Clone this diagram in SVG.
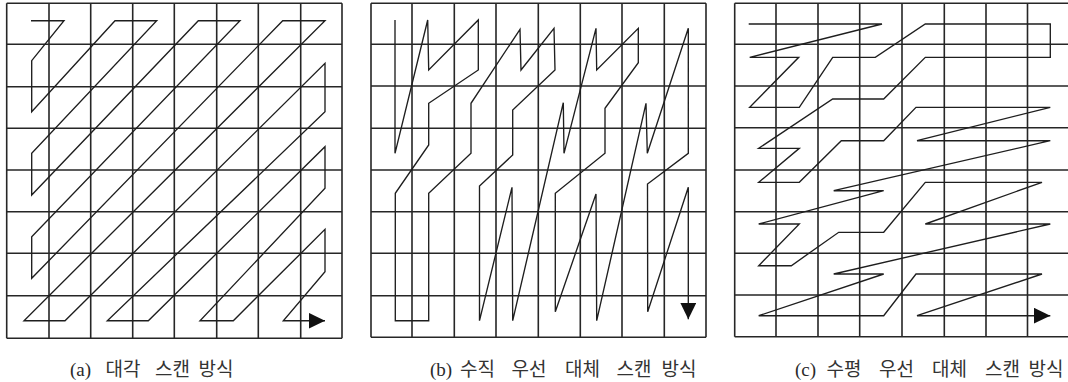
<svg xmlns="http://www.w3.org/2000/svg" width="1068" height="382" viewBox="0 0 1068 382">
<style>
.grid{fill:none;stroke:#262626;stroke-width:1.6}
.scan{fill:none;stroke:#1e1e1e;stroke-width:1.35;stroke-linejoin:miter}
.lat{font-family:"Liberation Serif",serif;font-size:19px;fill:#2a2a2a}
.kor{font-family:"Noto Sans CJK KR",sans-serif;font-size:19px;fill:#333}
</style>
<defs>
<marker id="ah" markerUnits="userSpaceOnUse" markerWidth="18" markerHeight="18" refX="16.5" refY="8" orient="auto" viewBox="0 0 18 18">
<path d="M0,0 L16.5,8 L0,16 z" fill="#111"/>
</marker>
</defs>
<rect width="1068" height="382" fill="#fff"/>
<g id="panel-a">
<path class="grid" d="M6.7,3.3V338.3 M49,3.3V338.3 M90.7,3.3V338.3 M132.7,3.3V338.3 M174.3,3.3V338.3 M216.7,3.3V338.3 M258.3,3.3V338.3 M300.7,3.3V338.3 M342,3.3V338.3 M6.7,3.3H342 M6.7,44.3H342 M6.7,86.7H342 M6.7,128.3H342 M6.7,170H342 M6.7,211.7H342 M6.7,253.3H342 M6.7,295.7H342 M6.7,338.3H342"/>
</g>
<g id="panel-b">
<path class="grid" d="M371,3.3V337.3 M412,3.3V337.3 M454.3,3.3V337.3 M496,3.3V337.3 M538.3,3.3V337.3 M580.3,3.3V337.3 M622,3.3V337.3 M664.3,3.3V337.3 M706,3.3V337.3 M371,3.3H706 M371,44.3H706 M371,86H706 M371,128.3H706 M371,170H706 M371,211.7H706 M371,253.3H706 M371,295.7H706 M371,337.3H706"/>
</g>
<g id="panel-c">
<path class="grid" d="M734.7,3.3V336.7 M776,3.3V336.7 M818,3.3V336.7 M859.7,3.3V336.7 M902,3.3V336.7 M944.3,3.3V336.7 M986,3.3V336.7 M1027.5,3.3V336.7 M1069.5,3.3V336.7 M734.7,3.3H1069.5 M734.7,44.3H1069.5 M734.7,86H1069.5 M734.7,127.7H1069.5 M734.7,170H1069.5 M734.7,211.7H1069.5 M734.7,253.3H1069.5 M734.7,295H1069.5 M734.7,336.7H1069.5"/>
</g>
<g id="connectors">
<path id="scan-a" class="scan" marker-end="url(#ah)" d="M31,20.7 L64,20.7 L31.7,60.7 L31.7,111.7 L115,20.7 L156.7,20.7 L31.7,153.3 L31.7,195 L198.3,20.7 L240,20.7 L31.7,236.7 L31.7,278.3 L282.7,20.7 L325,20.7 L24,320.7 L65,320.7 L325,63.3 L325,111.7 L107.3,320.7 L148.3,320.7 L325,146.7 L325,188.3 L200,320.7 L233.3,320.7 L325,229.3 L325,271.7 L283.3,320.7 L325,320.7"/>
<path id="scan-b" class="scan" marker-end="url(#ah)" d="M395,20 L395,153.3 L427.7,20 L428.7,70 L478.3,20 L478.3,70 L428.7,103.3 L428.7,145 L395.3,193.3 L395.3,320.7 L428.7,320.7 L428.7,193.3 L471,153.3 L471,103.3 L520,29.3 L521,70 L554,28.3 L555,70 L512.7,110 L512.7,155 L479.5,186 L479.5,320.7 L512,187.3 L512.7,320.7 L563.3,102.7 L564,153.3 L596,28.3 L596.7,70 L638.3,28.3 L638.3,62.7 L605,108.3 L605,153.3 L555.3,193.3 L555.3,311.7 L596,194 L596.7,320.7 L646,103.3 L647.3,153.3 L688.3,28.3 L688.3,153.3 L647.5,184 L647.7,311.7 L688.3,187.3 L688.3,319.3"/>
<path id="scan-c" class="scan" marker-end="url(#ah)" d="M748.7,24 L882,24 L749.7,57.3 L798.7,57.3 L749.7,107.3 L799.3,107.3 L832.7,57.3 L875.3,57.3 L925.3,24 L1050.3,24 L1050.3,57.3 L925.3,57.3 L883.7,99 L832.7,99 L758.7,148.3 L799.3,148.3 L758.7,182.3 L799.3,182.3 L841.3,140.7 L883.7,140.7 L916,107.3 L1050.3,107.3 L917,140.7 L1050.3,140.7 L833.7,190.7 L883.7,190.7 L758.7,224 L799.3,224 L758.7,265.7 L791.3,265.7 L838.7,232.3 L883.7,232.3 L925.3,182.3 L1042,182.3 L925.3,224 L1050.3,224 L833.7,274 L883.7,274 L758.7,315.7 L883.7,315.7 L916,274 L1042,274 L917,315.7 L1050.3,315.7"/>
</g>
<g id="labels">
<text y="375.5"><tspan class="lat" x="70">(a)</tspan><tspan class="kor" x="105.5">대각</tspan><tspan class="kor" x="155">스캔</tspan><tspan class="kor" x="198.5">방식</tspan></text>
<text y="375.5"><tspan class="lat" x="430">(b)</tspan><tspan class="kor" x="460">수직</tspan><tspan class="kor" x="511.5">우선</tspan><tspan class="kor" x="565">대체</tspan><tspan class="kor" x="616.5">스캔</tspan><tspan class="kor" x="661.5">방식</tspan></text>
<text y="375.5"><tspan class="lat" x="795">(c)</tspan><tspan class="kor" x="826.5">수평</tspan><tspan class="kor" x="879">우선</tspan><tspan class="kor" x="932">대체</tspan><tspan class="kor" x="985">스캔</tspan><tspan class="kor" x="1028.5">방식</tspan></text>
</g>
</svg>
